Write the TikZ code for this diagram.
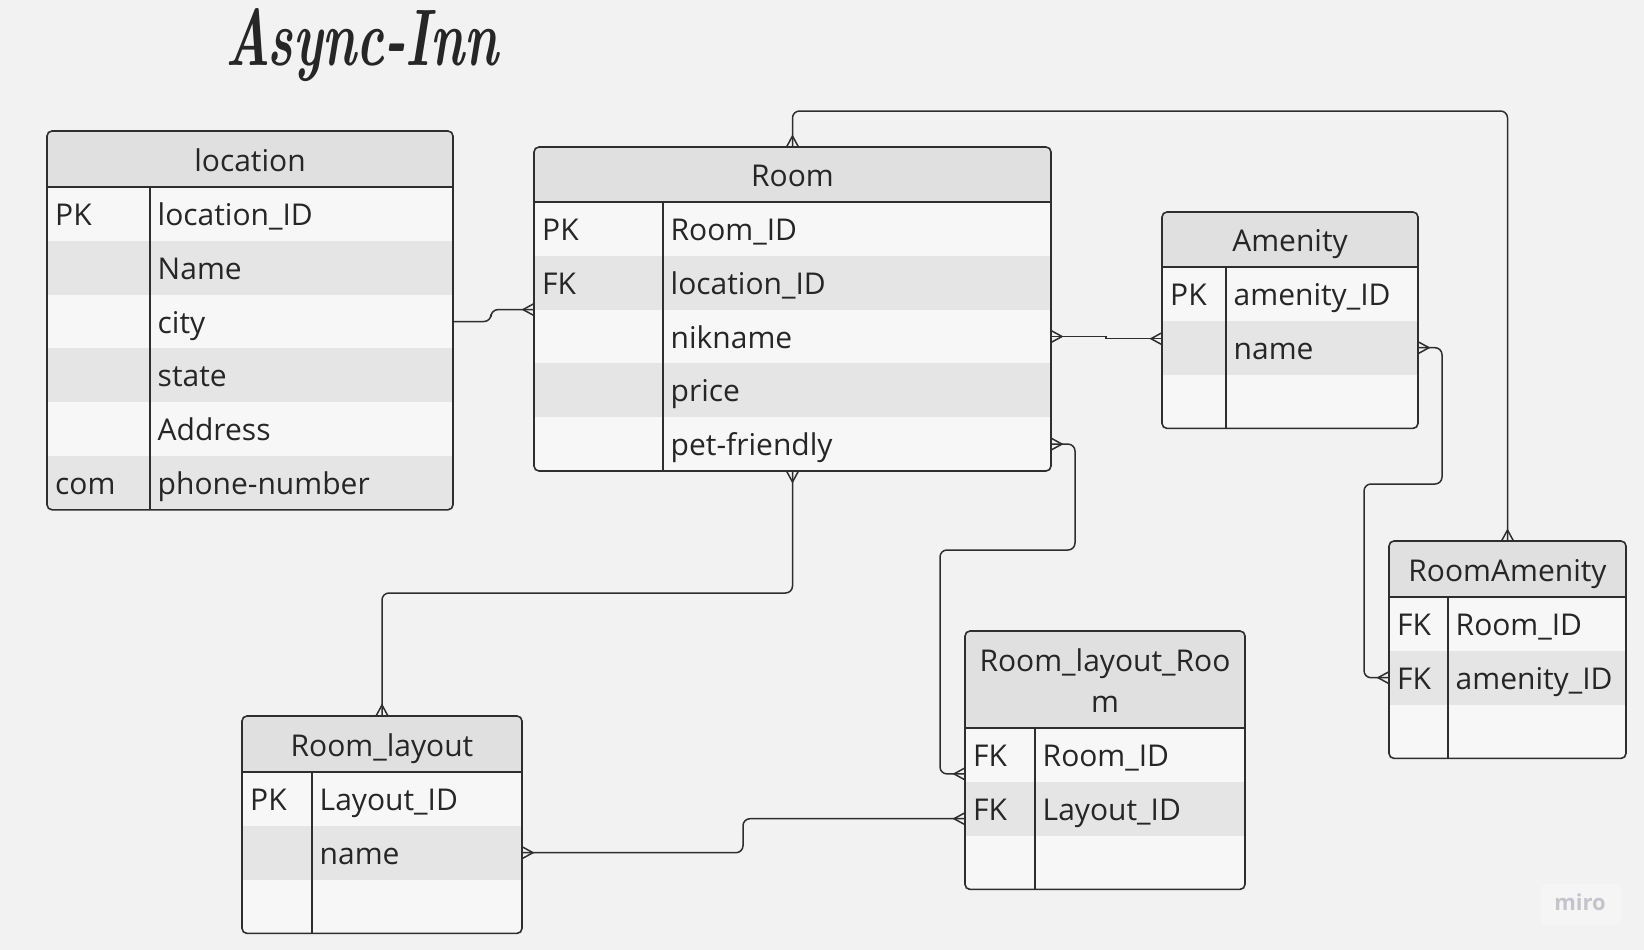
\documentclass[tikz,border=0pt]{standalone}
\usepackage{fontspec}
\newfontfamily\erdfont{Open Sans}
\usetikzlibrary{positioning}
\definecolor{canvas}{HTML}{F2F2F2}
\definecolor{headfill}{HTML}{E0E0E0}
\definecolor{rowlight}{HTML}{F7F7F7}
\definecolor{rowdark}{HTML}{E5E5E5}
\definecolor{inkline}{HTML}{2E2E2E}
\definecolor{inktext}{HTML}{262626}
\definecolor{mirobox}{HTML}{F5F5F5}
\definecolor{mirogray}{HTML}{C4C4CC}

% #1 name, #2 left, #3 top, #4 right, #5 bottom, #6 header bottom, #7 key divider, #8 title, #9 rows
\newcommand{\erdtable}[9]{%
  \begin{scope}
    \clip[rounded corners=5] (#2,#3) rectangle (#4,#5);
    \fill[headfill] (#2,#3) rectangle (#4,#6);
    \foreach \k/\f [count=\i] in {#9} {
      \ifodd\i \def\rowcol{rowlight}\else \def\rowcol{rowdark}\fi
      \node[rowbox, fill=\rowcol, minimum width=#4-#2] (#1-\i) at ({(#2+#4)/2}, {#6+(\i-0.5)*53.8}) {};
      \node[celltxt] (#1-\i-key) at ({#2+8}, {#6+(\i-0.5)*53.8+11.5}) {\k};
      \node[celltxt] (#1-\i-field) at ({#7+7.5}, {#6+(\i-0.5)*53.8+11.5}) {\f};
    }
  \end{scope}
  \node[headtxt] (#1-title) at ({(#2+#4)/2}, {#6-16}) {#8};
  \draw[tblline] (#2,#6) -- (#4,#6) (#7,#6) -- (#7,#5);
  \node[tblframe, minimum width=#4-#2, minimum height=#5-#3] (#1) at ({(#2+#4)/2}, {(#3+#5)/2}) {};
}

\begin{document}
\begin{tikzpicture}[x=1pt, y=-1pt,
    rowbox/.style={rectangle, draw=none, inner sep=0, outer sep=0, minimum height=53.8},
    celltxt/.style={anchor=base west, inner sep=0, text=inktext, font=\erdfont\fontsize{30}{41}\selectfont},
    headtxt/.style={anchor=base, align=center, inner sep=0, text=inktext, font=\erdfont\fontsize{30}{41}\selectfont},
    tblline/.style={draw=inkline, line width=1.6},
    tblframe/.style={rectangle, draw=inkline, line width=1.6, rounded corners=5, inner sep=0, outer sep=0},
    conn/.style={draw=inkline, line width=1.5, rounded corners=7},
    crow/.pic={\draw[draw=inkline, line width=1.5] (0,6) -- (11,0) -- (0,-6);}]
    \fill[canvas] (0,0) rectangle (1644,950);
    \useasboundingbox (0,0) rectangle (1644,950);
    \node[anchor=base, inner sep=0, text=inktext] (title) at (362,66)
        {\resizebox{273pt}{57pt}{\bfseries\itshape Async-Inn}};
    %% tables
    \erdtable{loc}{47}{131}{453}{509.8}{187}{150}{location}
        {PK/location\_ID, {}/Name, {}/city, {}/state, {}/Address, com/phone-number}
    \erdtable{room}{534}{147}{1051}{471}{202}{663}{Room}
        {PK/Room\_ID, FK/location\_ID, {}/nikname, {}/price, {}/pet-friendly}
    \erdtable{amen}{1162}{212}{1418}{428.4}{267}{1226}{Amenity}
        {PK/amenity\_ID, {}/name, {}/{}}
    \erdtable{ra}{1389}{541}{1626}{758.4}{597}{1448}{RoomAmenity}
        {FK/Room\_ID, FK/amenity\_ID, {}/{}}
    \erdtable{rlr}{965}{631}{1245}{889.4}{728}{1035}{Room\_layout\_Roo\\m}
        {FK/Room\_ID, FK/Layout\_ID, {}/{}}
    \erdtable{rl}{242}{716}{522}{933.4}{772}{312}{Room\_layout}
        {PK/Layout\_ID, {}/name, {}/{}}
    %% relations
    \draw[conn] (loc-3.east) -- ++(38,0) |- (room-2.south west);
    \draw[conn, sharp corners] (room-3.east) -- ++(55,0) |- ([yshift=9pt]amen-2.west);
    \draw[conn] (room-5.east) -- ++(24,0) |- (940,550) |- ([yshift=-19pt]rlr-1.west);
    \draw[conn] (room.south) -- ++(0,122) -| (rl.north);
    \draw[conn] (room.north) -- ++(0,-36) -| (ra.north);
    \draw[conn] (amen-2.east) -- ++(24,0) |- (1364,484) |- (ra-2.west);
    \draw[conn] (rl-2.east) -- ++(221,0) |- ([yshift=-10pt]rlr-2.west);
    %% crow's feet
    \pic[rotate=180] at (room-2.south west) {crow};
    \pic at (room-3.east) {crow};
    \pic[rotate=180] at ([yshift=9pt]amen-2.west) {crow};
    \pic at (room-5.east) {crow};
    \pic[rotate=180] at ([yshift=-19pt]rlr-1.west) {crow};
    \pic[rotate=-90] at (room.south) {crow};
    \pic[rotate=90] at (rl.north) {crow};
    \pic[rotate=90] at (room.north) {crow};
    \pic[rotate=90] at (ra.north) {crow};
    \pic at (amen-2.east) {crow};
    \pic[rotate=180] at (ra-2.west) {crow};
    \pic at (rl-2.east) {crow};
    \pic[rotate=180] at ([yshift=-10pt]rlr-2.west) {crow};
    %% watermark
    \fill[mirobox, rounded corners=6] (1541,884) rectangle (1622,925);
    \node[text=mirogray, inner sep=0, font=\erdfont\bfseries\fontsize{22}{22}\selectfont] (miro) at (1580,902) {miro};
\end{tikzpicture}
\end{document}
